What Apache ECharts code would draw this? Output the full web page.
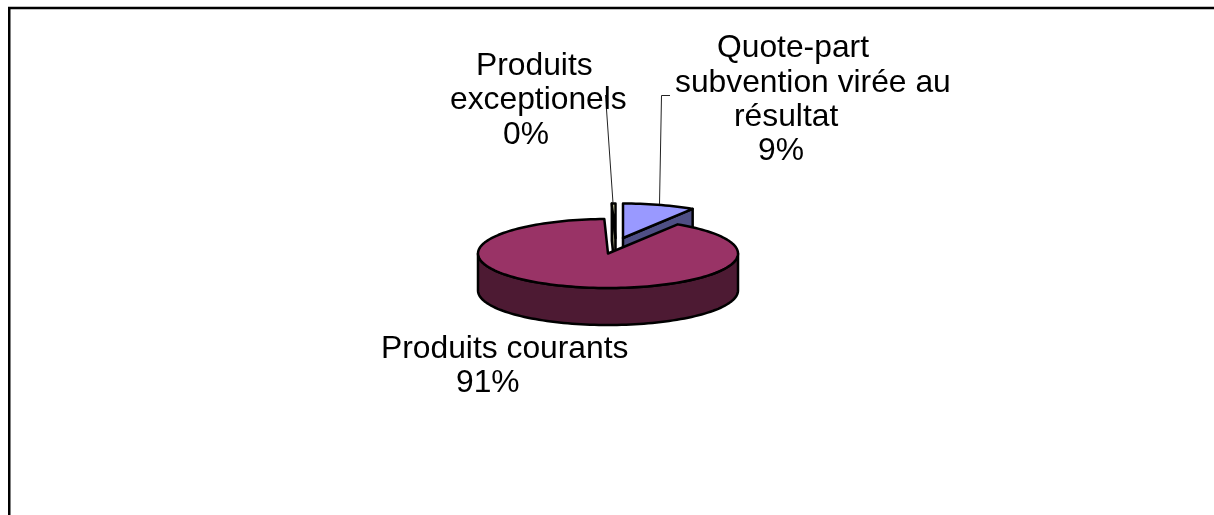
<!DOCTYPE html>
<html>
<head>
<meta charset="utf-8">
<style>
html,body{margin:0;padding:0;background:#fff}
#main{width:1214px;height:515px}
</style>
</head>
<body>
<div id="main"></div>
<script src="https://cdn.jsdelivr.net/npm/echarts@6/dist/echarts.min.js"></script>
<script>
// data, clockwise from 12 o'clock
var names = ['Quote-part subvention virée au résultat', 'Produits courants', 'Produits exceptionels'];
var values = [9.0, 90.55, 0.45];
var labelLines = [
	['Quote-part', 'subvention virée au', 'résultat'],
	['Produits courants'],
	['Produits', 'exceptionels']
];

// fake 3d pie layout
var RX = 130, RY = 34.5, DEPTH = 37;
var centres = [[623, 238], [608, 253.5], [615.5, 238]];   // exploded slices
var topColors = ['#9999FF', '#993366', '#FFFFCC'];
var wallColors = ['#4F4F85', '#4D1A33', '#85856A'];
var drawOrder = [1, 3, 2];
// one [left, baseline] per label line, the percent line comes last
var labelPos = [
	[[717, 59], [675, 94], [734, 128], [758, 162]],
	[[381, 360], [456, 394]],
	[[476, 77], [450, 111], [503, 146]]
];
var leaders = [
	[[670, 95.5], [661.5, 95.5], [659.5, 204]],
	null,
	[[605.5, 95], [613, 203]]
];
var FONT = '31.8px "Liberation Sans", Arial, sans-serif';

var total = values.reduce(function (a, b) { return a + b; }, 0);

function pt(c, deg, h) {
	var a = deg * Math.PI / 180;
	return [c[0] + RX * Math.sin(a), c[1] - RY * Math.cos(a) + (h || 0)];
}
function arc(c, a0, a1, h) {
	var pts = [], n = Math.max(2, Math.ceil(Math.abs(a1 - a0) / 2));
	for (var i = 0; i <= n; i++) {
		pts.push(pt(c, a0 + (a1 - a0) * i / n, h));
	}
	return pts;
}
function poly(points, fill, z) {
	return {
		type: 'polygon',
		z2: z,
		shape: { points: points },
		style: { fill: fill, stroke: '#000', lineWidth: 2.5, lineJoin: 'round' }
	};
}

function renderSlice(params, api) {
	var i = params.dataIndex;
	var before = 0;
	for (var k = 0; k < i; k++) before += values[k];
	var a0 = before / total * 360;
	var a1 = (before + api.value(0)) / total * 360;
	var c = centres[i], z = drawOrder[i] * 10, kids = [];

	// outer wall only on the front half
	var w0 = Math.max(a0, 90), w1 = Math.min(a1, 270);
	if (w1 > w0) {
		kids.push(poly(arc(c, w0, w1, 0).concat(arc(c, w1, w0, DEPTH)), wallColors[i], z));
	}
	// cut walls which face the viewer
	if (a1 < 180) {
		kids.push(poly([c, pt(c, a1), pt(c, a1, DEPTH), [c[0], c[1] + DEPTH]], wallColors[i], z));
	}
	if (a0 > 180) {
		kids.push(poly([c, pt(c, a0), pt(c, a0, DEPTH), [c[0], c[1] + DEPTH]], wallColors[i], z));
	}
	kids.push(poly([c].concat(arc(c, a0, a1, 0)), topColors[i], z + 1));

	return { type: 'group', children: kids };
}

function renderLabel(params, api) {
	var i = params.dataIndex;
	var percent = Math.round(api.value(0) / total * 100) + '%';
	var lines = labelLines[i].concat([percent]);
	var kids = lines.map(function (t, n) {
		return {
			type: 'text',
			z2: 100,
			x: labelPos[i][n][0],
			y: labelPos[i][n][1] - 11,
			style: { text: t, font: FONT, fill: '#000', textAlign: 'left', textVerticalAlign: 'middle' }
		};
	});
	if (leaders[i]) {
		kids.push({
			type: 'polyline',
			z2: 90,
			shape: { points: leaders[i] },
			style: { fill: null, stroke: '#222', lineWidth: 1 }
		});
	}
	return { type: 'group', children: kids };
}

var myChart = echarts.init(document.getElementById('main'));
var seriesData = values.map(function (v, i) { return { name: names[i], value: [v] }; });
myChart.setOption({
	animation: false,
	backgroundColor: '#fff',
	graphic: [{
		type: 'polyline',
		shape: { points: [[9.25, 515], [9.25, 8], [1214, 8]] },
		style: { fill: null, stroke: '#000', lineWidth: 2.5 }
	}],
	series: [
		{ type: 'custom', coordinateSystem: 'none', renderItem: renderSlice, data: seriesData, silent: true },
		{ type: 'custom', coordinateSystem: 'none', renderItem: renderLabel, data: seriesData, silent: true, z: 5 }
	]
});
</script>
</body>
</html>
